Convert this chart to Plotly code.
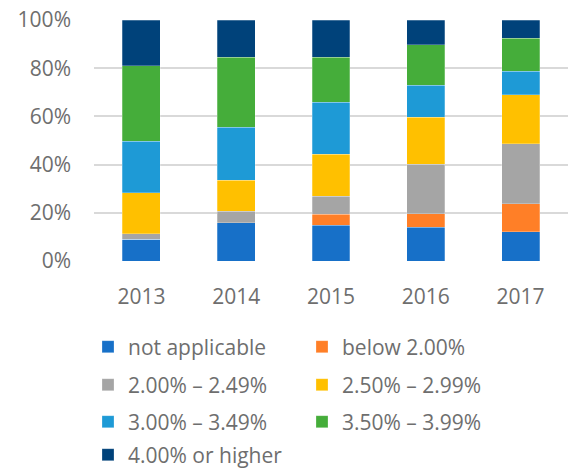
import plotly.graph_objects as go

years = ["2013", "2014", "2015", "2016", "2017"]
series_names = ["not applicable", "below 2.00%", "2.00% – 2.49%", "2.50% – 2.99%",
                "3.00% – 3.49%", "3.50% – 3.99%", "4.00% or higher"]
not_applicable = [9.1, 15.8, 14.8, 14.0, 12.2]
below_200 = [0.0, 0.0, 4.5, 5.7, 11.6]
r200_249 = [2.3, 4.8, 7.6, 20.5, 24.8]
r250_299 = [16.9, 12.9, 17.3, 19.5, 20.4]
r300_349 = [21.3, 21.9, 21.6, 13.2, 9.7]
r350_399 = [31.4, 29.2, 18.8, 16.8, 13.8]
r400_up = [19.0, 15.4, 15.4, 10.3, 7.5]
y_ticks = [0, 20, 40, 60, 80, 100]
y_tick_labels = ["0%", "20%", "40%", "60%", "80%", "100%"]

colors = ["#1770C8", "#FF7F27", "#A5A5A5", "#FFC000", "#1E9AD6", "#45AD3A", "#00427A"]
values = [not_applicable, below_200, r200_249, r250_299, r300_349, r350_399, r400_up]
legend_ids = ["legend", "legend", "legend2", "legend2", "legend3", "legend3", "legend4"]

fig = go.Figure()
for name, vals, col, lg in zip(series_names, values, colors, legend_ids):
    fig.add_trace(go.Bar(x=years, y=vals, name=name, legend=lg,
                         marker=dict(color=col, line=dict(color="rgba(255,255,255,0.5)", width=0.5))))

font_family = "Open Sans, Noto Sans, DejaVu Sans, sans-serif"
txt = "#6E6E6E"
W, H = 571, 469
plot_top, plot_bottom = 20, 261
row_centers = [347, 385, 422, 455]


def legend_cfg(yc):
    return dict(orientation="h", xref="container", x=88 / W, xanchor="left",
                yref="container", y=1 - yc / H, yanchor="middle",
                entrywidth=169, entrywidthmode="pixels", traceorder="normal",
                font=dict(size=21, color=txt, family=font_family),
                bgcolor="rgba(0,0,0,0)", borderwidth=0)


fig.update_layout(
    barmode="stack",
    bargap=0.6,
    width=W, height=H,
    margin=dict(l=94, r=3, t=plot_top, b=H - plot_bottom, autoexpand=False),
    plot_bgcolor="white", paper_bgcolor="white",
    font=dict(family=font_family, size=21, color=txt),
    showlegend=True,
    legend=legend_cfg(row_centers[0]),
    legend2=legend_cfg(row_centers[1]),
    legend3=legend_cfg(row_centers[2]),
    legend4=legend_cfg(row_centers[3]),
    xaxis=dict(showgrid=False, showline=False, ticks="", ticklabelstandoff=21),
    yaxis=dict(range=[0, 100], tickvals=y_ticks, ticktext=y_tick_labels,
               showgrid=True, gridcolor="#D9D9D9", gridwidth=1.5, zeroline=False,
               showline=False, ticks="", ticklabelstandoff=22),
)
fig.write_html("out.html", config={"displayModeBar": False},
               post_script="document.body.style.margin='0';document.body.style.overflow='hidden';")
